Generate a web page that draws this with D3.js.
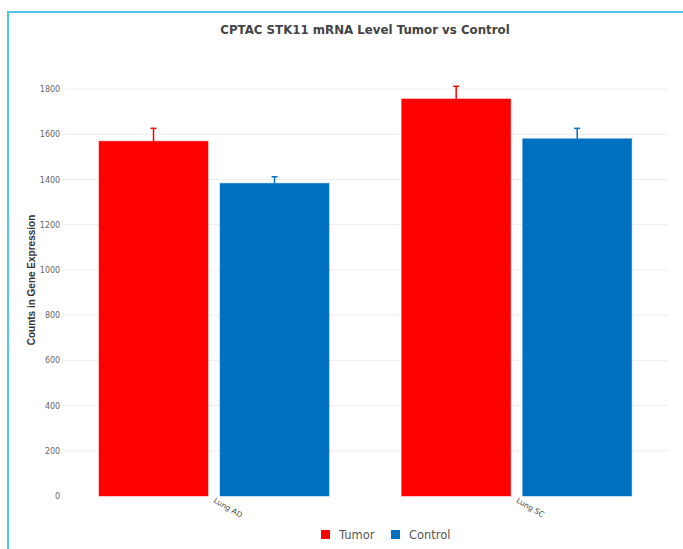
<!DOCTYPE html>
<html>
<head>
<meta charset="utf-8">
<script src="https://cdn.jsdelivr.net/npm/d3@7"></script>
<style>
  html, body { margin: 0; padding: 0; background: #fff; }
  svg { display: block; }
</style>
</head>
<body>
<svg id="chart" width="683" height="549"></svg>
<script>
// STK11 mRNA counts, tumor vs control, per lung cancer subtype
const categories = ["Lung AD", "Lung SC"];
const seriesNames = ["Tumor", "Control"];
const seriesColors = ["#ff0000", "#0070c0"];
const tumorValues = [1569, 1756];
const tumorErrors = [57, 56];
const controlValues = [1383, 1580];
const controlErrors = [29, 46];
const yTicks = [0, 200, 400, 600, 800, 1000, 1200, 1400, 1600, 1800];

const svg = d3.select("#chart");
const W = 683, H = 549;
const font = "'DejaVu Sans', Verdana, sans-serif";

// outer frame (top and left edges visible)
svg.append("path")
  .attr("d", `M8,${H} V12 H${W}`)
  .attr("fill", "none")
  .attr("stroke", "#4fc4e8")
  .attr("stroke-width", 2);

const plot = { left: 62.7, right: 668, top: 89, bottom: 496 };

const y = d3.scaleLinear().domain([0, 1800]).range([plot.bottom, plot.top]);
const x0 = d3.scaleBand().domain(categories).range([plot.left, plot.right]).padding(0);
const x1 = d3.scaleBand().domain(seriesNames).range([0, x0.bandwidth()])
  .paddingInner(0.099).paddingOuter(0.30);

// gridlines
svg.append("g")
  .selectAll("line")
  .data(yTicks.filter(d => d > 0))
  .join("line")
  .attr("x1", plot.left).attr("x2", plot.right)
  .attr("y1", d => y(d)).attr("y2", d => y(d))
  .attr("stroke", "#eeeeee").attr("stroke-width", 1);

// y axis labels
const yAxis = d3.axisLeft(y).tickValues(yTicks).tickFormat(d3.format("d")).tickSize(0).tickPadding(2);
const yg = svg.append("g").attr("transform", `translate(${plot.left - 0.5},0)`).call(yAxis);
yg.select(".domain").remove();
yg.selectAll("text")
  .attr("font-family", font).attr("font-size", 8).attr("fill", "#666");

// y axis title
svg.append("text")
  .attr("transform", `translate(35,280) rotate(-90)`)
  .attr("text-anchor", "middle")
  .attr("font-family", "'Liberation Sans', Arial, sans-serif")
  .attr("font-weight", "bold")
  .attr("font-size", 10)
  .attr("fill", "#333")
  .text("Counts in Gene Expression");

// chart title
svg.append("text")
  .attr("x", 365).attr("y", 34)
  .attr("text-anchor", "middle")
  .attr("font-family", font)
  .attr("font-weight", "bold")
  .attr("font-size", 11.8)
  .attr("fill", "#444")
  .text("CPTAC STK11 mRNA Level Tumor vs Control");

// bars
const rows = categories.map((c, i) => ({
  category: c,
  values: [
    { series: "Tumor", value: tumorValues[i], err: tumorErrors[i], color: seriesColors[0] },
    { series: "Control", value: controlValues[i], err: controlErrors[i], color: seriesColors[1] }
  ]
}));

const groups = svg.append("g")
  .selectAll("g")
  .data(rows)
  .join("g")
  .attr("transform", d => `translate(${x0(d.category)},0)`);

groups.selectAll("rect")
  .data(d => d.values)
  .join("rect")
  .attr("x", d => x1(d.series))
  .attr("width", x1.bandwidth())
  .attr("y", d => y(d.value))
  .attr("height", d => y(0) - y(d.value))
  .attr("fill", d => d.color)
  .attr("stroke", d => d.color)
  .attr("stroke-opacity", 0.45)
  .attr("stroke-width", 1);

// error bars (upper whisker only)
const err = groups.selectAll("g.err")
  .data(d => d.values)
  .join("g")
  .attr("class", "err")
  .attr("stroke", d => d.color)
  .attr("stroke-width", 1.5);
err.append("line")
  .attr("x1", d => x1(d.series) + x1.bandwidth() / 2)
  .attr("x2", d => x1(d.series) + x1.bandwidth() / 2)
  .attr("y1", d => y(d.value))
  .attr("y2", d => y(d.value + d.err));
err.append("line")
  .attr("x1", d => x1(d.series) + x1.bandwidth() / 2 - 3)
  .attr("x2", d => x1(d.series) + x1.bandwidth() / 2 + 3)
  .attr("y1", d => y(d.value + d.err))
  .attr("y2", d => y(d.value + d.err));

// category labels, rotated
svg.append("g")
  .selectAll("text")
  .data(categories)
  .join("text")
  .attr("transform", d => `translate(${x0(d) + x0.bandwidth() / 2 - 1},${plot.bottom + 6}) rotate(30)`)
  .attr("font-family", font)
  .attr("font-size", 7.5)
  .attr("fill", "#444")
  .text(d => d);

// legend
const legend = svg.append("g").attr("transform", "translate(321,530)");
const legendX = [0, 70];
const items = legend.selectAll("g")
  .data(seriesNames)
  .join("g")
  .attr("transform", (d, i) => `translate(${legendX[i]},0)`);
items.append("rect")
  .attr("width", 9).attr("height", 9)
  .attr("fill", (d, i) => seriesColors[i]);
items.append("text")
  .attr("x", 18).attr("y", 9)
  .attr("font-family", font)
  .attr("font-size", 11.5)
  .attr("fill", "#555")
  .text(d => d);
</script>
</body>
</html>
